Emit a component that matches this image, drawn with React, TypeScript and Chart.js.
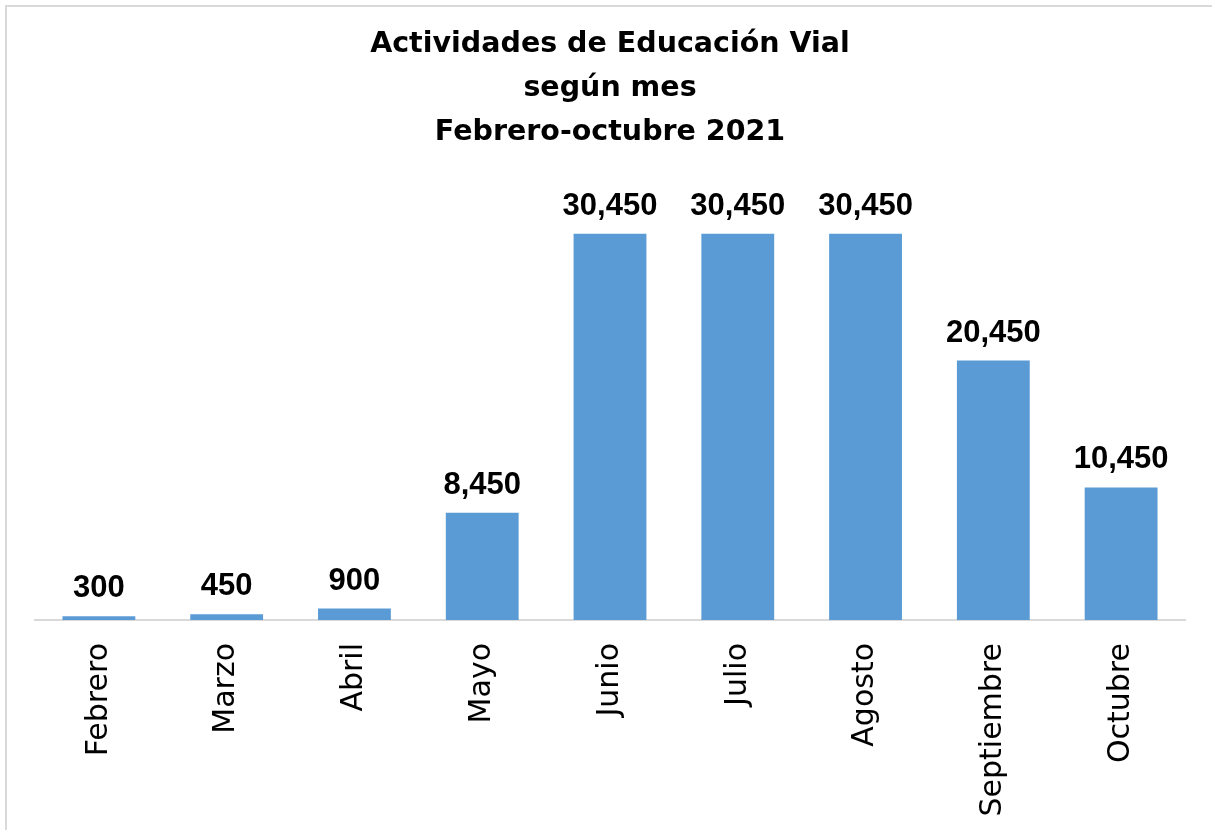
import React, { useEffect, useRef } from "react";
import { Chart, registerables } from "chart.js";

Chart.register(...registerables);

const months = ["Febrero", "Marzo", "Abril", "Mayo", "Junio", "Julio", "Agosto", "Septiembre", "Octubre"];
const activities = [300, 450, 900, 8450, 30450, 30450, 30450, 20450, 10450];
const titleLines = ["Actividades de Educación Vial", "según mes", "Febrero-octubre 2021"];

const barLabels = {
  id: "barLabels",
  afterDatasetsDraw(chart: any) {
    const ctx = chart.ctx;
    const meta = chart.getDatasetMeta(0);
    ctx.save();
    ctx.font = "bold 31px 'Liberation Sans', Arial, sans-serif";
    ctx.fillStyle = "#000000";
    ctx.textAlign = "center";
    ctx.textBaseline = "alphabetic";
    meta.data.forEach((bar: any, i: number) => {
      const v = activities[i];
      ctx.fillText(v.toLocaleString("en-US"), bar.x, bar.y - 19);
    });
    ctx.restore();
  },
};

export default function App() {
  const ref = useRef<HTMLCanvasElement | null>(null);
  useEffect(() => {
    if (!ref.current) return;
    const chart = new Chart(ref.current, {
      type: "bar",
      data: {
        labels: months,
        datasets: [
          {
            data: activities,
            backgroundColor: "#5B9BD5",
            borderWidth: 0,
            barPercentage: 0.57,
            categoryPercentage: 1,
          },
        ],
      },
      options: {
        animation: false,
        responsive: true,
        maintainAspectRatio: false,
        layout: { padding: { left: 35, right: 27, top: 0, bottom: 0 } },
        plugins: {
          legend: { display: false },
          tooltip: { enabled: false },
          title: {
            display: true,
            text: titleLines,
            color: "#000000",
            font: { family: "'DejaVu Sans', sans-serif", size: 28.5, weight: "bold", lineHeight: "44px" },
            padding: { top: 23, bottom: 21 },
          },
        },
        scales: {
          x: {
            grid: { display: false, drawTicks: false },
            border: { display: true, color: "#d9d9d9", width: 2 },
            ticks: {
              color: "#000000",
              font: { family: "'DejaVu Sans', sans-serif", size: 30 },
              maxRotation: 90,
              minRotation: 90,
              padding: 23,
              autoSkip: false,
            },
            afterFit: (scale: any) => {
              scale.height = 210;
            },
          },
          y: {
            display: false,
            min: 0,
            max: 35000,
          },
        },
      },
      plugins: [barLabels],
    });
    return () => chart.destroy();
  }, []);

  return (
    <div style={{ position: "absolute", left: 0, top: 0, width: 1212, height: 830, overflow: "hidden", background: "#ffffff" }}>
      <div
        style={{
          position: "absolute",
          left: 5,
          top: 5,
          width: 1400,
          height: 1000,
          borderTop: "2px solid #d9d9d9",
          borderLeft: "2px solid #d9d9d9",
        }}
      />
      <div style={{ position: "absolute", left: 0, top: 0, width: 1212, height: 830 }}>
        <canvas ref={ref} />
      </div>
    </div>
  );
}
